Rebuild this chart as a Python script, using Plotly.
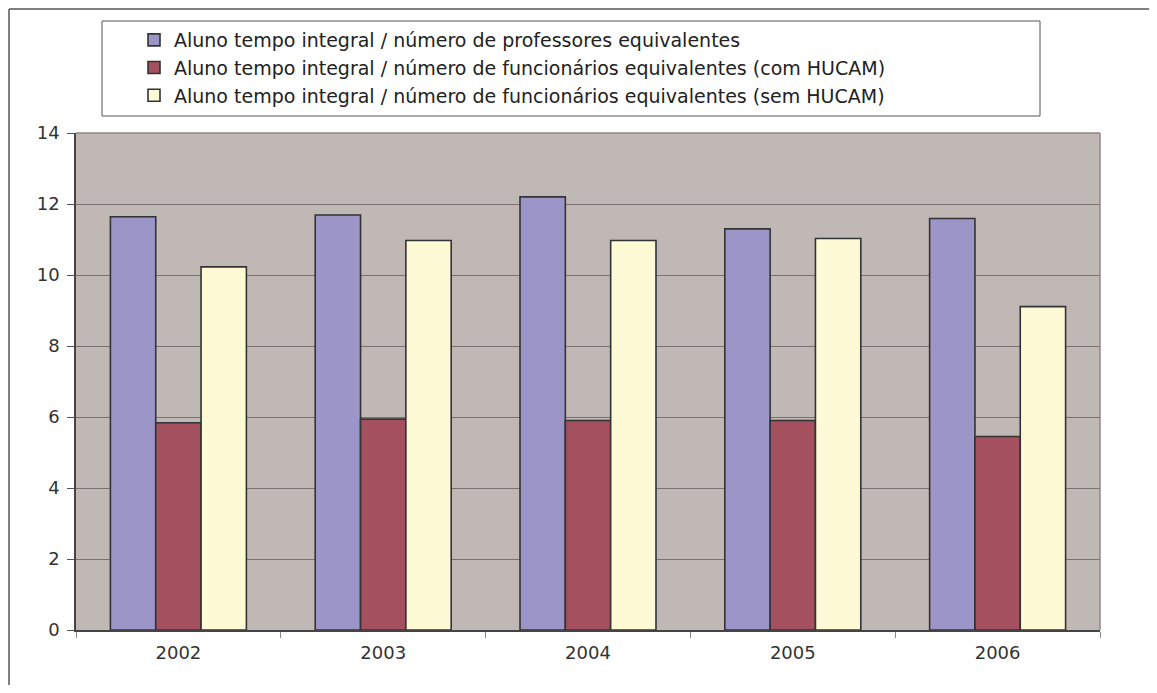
import plotly.graph_objects as go

anos = ['2002', '2003', '2004', '2005', '2006']
professores = [11.64, 11.69, 12.2, 11.3, 11.59]
func_com_hucam = [5.84, 5.94, 5.9, 5.9, 5.45]
func_sem_hucam = [10.23, 10.97, 10.97, 11.03, 9.11]

nomes = ['Aluno tempo integral / número de professores equivalentes',
         'Aluno tempo integral / número de funcionários equivalentes (com HUCAM)',
         'Aluno tempo integral / número de funcionários equivalentes (sem HUCAM)']
cores = ['#9b95c8', '#a5505f', '#fffad6']

fig = go.Figure()
for nome, vals, cor in zip(nomes, [professores, func_com_hucam, func_sem_hucam], cores):
    fig.add_bar(x=anos, y=vals, name=nome,
                marker=dict(color=cor, line=dict(color='#333333', width=1.6)))

# page has an 8px body margin, so the figure is shrunk and shifted accordingly
OFF = 8
W, H = 1157 - 2 * OFF, 693 - 2 * OFF
ml, mt = 76 - OFF, 133 - OFF
pw, ph = 1024, 497
mr, mb = W - ml - pw, H - mt - ph


def px_x(p):
    # page pixel -> paper x
    return (p - OFF - ml) / pw


def px_y(p):
    # page pixel -> paper y
    return 1 - (p - OFF - mt) / ph


shapes = [
    # outer frame (top and left)
    dict(type='line', xref='paper', yref='paper', x0=px_x(OFF + 1), x1=px_x(1157), y0=px_y(OFF + 1), y1=px_y(OFF + 1),
         line=dict(color='#555555', width=1.5)),
    dict(type='line', xref='paper', yref='paper', x0=px_x(OFF + 1), x1=px_x(OFF + 1), y0=px_y(OFF + 1), y1=px_y(693),
         line=dict(color='#555555', width=1.5)),
    # legend box
    dict(type='rect', xref='paper', yref='paper', x0=px_x(102), x1=px_x(1040), y0=px_y(116), y1=px_y(21),
         line=dict(color='#555555', width=1), fillcolor='white'),
    # plot area border top / right
    dict(type='line', xref='paper', yref='paper', x0=0, x1=1, y0=1, y1=1,
         line=dict(color='#8f8787', width=1.5)),
    dict(type='line', xref='paper', yref='paper', x0=1, x1=1, y0=0, y1=1,
         line=dict(color='#8f8787', width=1.5)),
]

fig.update_layout(
    width=W, height=H,
    margin=dict(l=ml, r=mr, t=mt, b=mb),
    paper_bgcolor='white',
    plot_bgcolor='#c0b8b5',
    font=dict(family='DejaVu Sans, Liberation Sans, Arial, sans-serif', size=18, color='#333333'),
    barmode='group', bargap=0.336, bargroupgap=0,
    shapes=shapes,
    legend=dict(x=px_x(134), y=px_y(21), xanchor='left', yanchor='top',
                bgcolor='rgba(0,0,0,0)', borderwidth=0,
                font=dict(size=19, color='#222222'), tracegroupgap=0),
    xaxis=dict(type='category', tickson='boundaries', ticks='outside', ticklen=6,
               tickcolor='#888888', showline=True, linecolor='#444444', linewidth=1.5,
               showgrid=False, tickfont=dict(size=18), ticklabelstandoff=6),
    yaxis=dict(range=[0, 14], dtick=2, ticks='outside', ticklen=7, tickcolor='#555555',
               showline=True, linecolor='#444444', linewidth=1.5,
               gridcolor='#797171', gridwidth=1.2, zeroline=False, tickfont=dict(size=18),
               ticklabelstandoff=4),
)

fig.write_html("out.html")
